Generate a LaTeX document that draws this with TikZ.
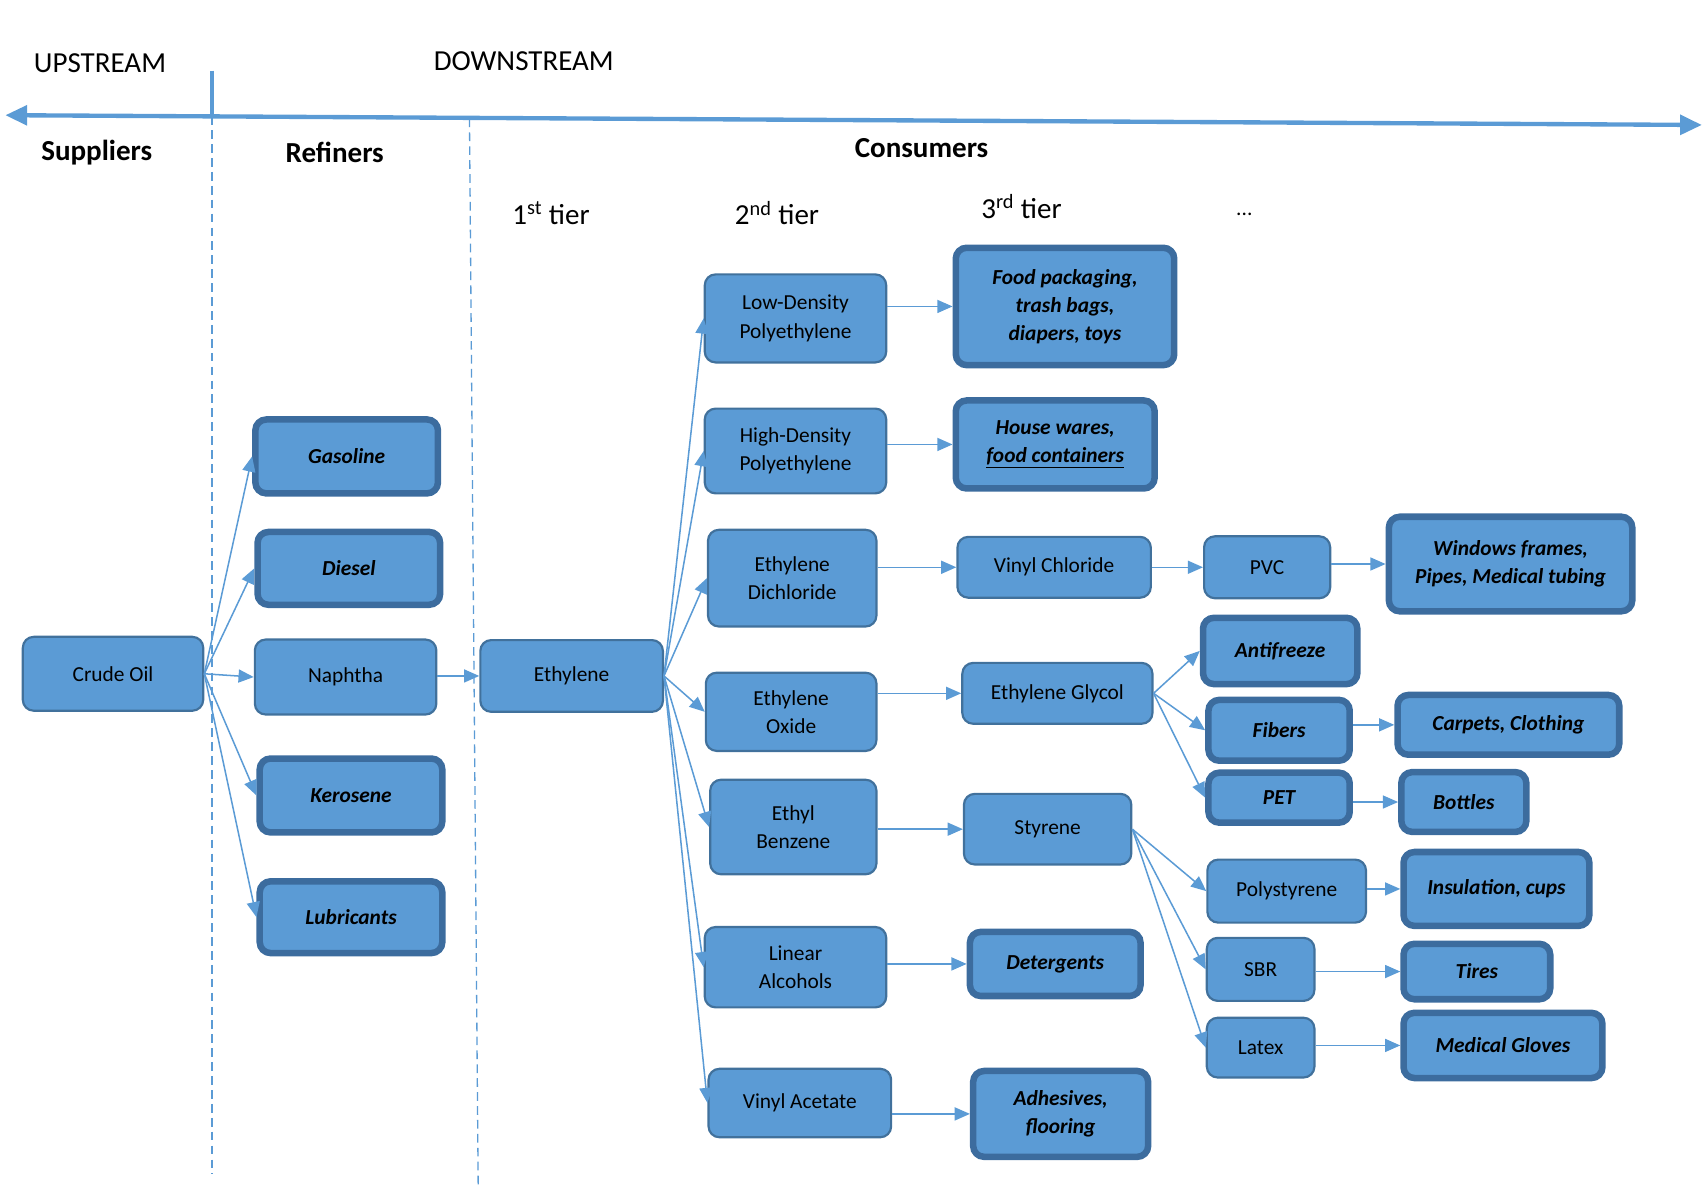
\documentclass[tikz,border=0pt]{standalone}
\usepackage{fontspec}
\setmainfont{Carlito}
\usetikzlibrary{shapes,positioning,arrows.meta}
\definecolor{boxfill}{HTML}{5B9BD5}
\definecolor{boxline}{HTML}{41719C}
\definecolor{prodline}{HTML}{3C6C9E}
\definecolor{arrowc}{HTML}{5B9BD5}
\newcommand{\bxfont}{\fontsize{14}{18.5}\selectfont}
\newcommand{\hdfont}{\fontsize{19}{23}\selectfont}
\tikzset{
    bsz/.style 2 args={minimum width=#1*0.25mm,minimum height=#2*0.25mm},
    box/.style={draw=boxline,fill=boxfill,line width=0.5mm,rounded corners=2.5mm,
        inner sep=0pt,align=center,font=\bxfont},
    prod/.style={box,draw=prodline,line width=1.5mm,font=\bxfont\bfseries\itshape},
    arr/.style={draw=arrowc,line width=0.35mm,-{Triangle[length=3.5mm,width=3mm]}},
    head/.style={inner sep=0pt,font=\hdfont}
}

\begin{document}
\begin{tikzpicture}[x=0.25mm,y=-0.25mm]
\useasboundingbox (0,0) rectangle (1568,1090);

% Stream axis
\coordinate (axl) at (5,106);
\coordinate (axr) at (1566,115);
\coordinate (ticktop) at (195,65);
\coordinate (tickbot) at (195,107);
\draw[draw=arrowc,line width=1mm,{Triangle[length=5mm,width=4.5mm]}-{Triangle[length=5mm,width=4.5mm]}]
    (axl) -- (axr);
\draw[draw=arrowc,line width=1mm] (ticktop) -- (tickbot);

% Column separators
\coordinate (sepa) at (195,1080);
\coordinate (sepbtop) at (432,109);
\coordinate (sepbbot) at (440,1090);
\draw[draw=arrowc,line width=0.3mm,dash pattern=on 2mm off 1.2mm] (tickbot) -- (sepa);
\draw[draw=arrowc,line width=0.3mm,dash pattern=on 2mm off 1.2mm] (sepbtop) -- (sepbbot);

% Headings
\node[head] (up) at (92,58) {UPSTREAM};
\node[head] (down) at (482,56) {DOWNSTREAM};
\node[head,font=\hdfont\bfseries] (supp) at (89,140) {Suppliers};
\node[head,font=\hdfont\bfseries] (refi) at (308,140) {Refiners};
\node[head,font=\hdfont\bfseries] (cons) at (848,136) {Consumers};
\node[head] (tier1) at (507,196) {1\textsuperscript{st} tier};
\node[head] (tier2) at (715,196) {2\textsuperscript{nd} tier};
\node[head] (tier3) at (940,190) {3\textsuperscript{rd} tier};
\node[head,font=\bxfont] (tiern) at (1145,197) {...};

% Suppliers and refiners
\node[box,bsz={166}{68}] (crude) at (104,620) {Crude Oil};
\node[prod,bsz={168}{68}] (gas) at (319,420) {Gasoline};
\node[prod,bsz={168}{67}] (diesel) at (321,523) {Diesel};
\node[box,bsz={167}{69}] (naph) at (318,623) {Naphtha};
\node[prod,bsz={168}{68}] (kero) at (323,732) {Kerosene};
\node[prod,bsz={168}{66}] (lubr) at (323,844) {Lubricants};

% 1st tier
\node[box,bsz={168}{66}] (ethy) at (526,622) {Ethylene};

% 2nd tier
\node[box,bsz={167}{81}] (ldpe) at (732,293) {Low-Density\\Polyethylene};
\node[box,bsz={167}{78}] (hdpe) at (732,415) {High-Density\\Polyethylene};
\node[box,bsz={155}{89}] (edc) at (729,532) {Ethylene\\Dichloride};
\node[box,bsz={157}{72}] (eox) at (728,655) {Ethylene\\Oxide};
\node[box,bsz={153}{87}] (ebz) at (730,761) {Ethyl\\Benzene};
\node[box,bsz={167}{74}] (lalc) at (732,890) {Linear\\Alcohols};
\node[box,bsz={168}{63}] (vac) at (736,1015) {Vinyl Acetate};

% 3rd tier
\node[prod,bsz={201}{108}] (food) at (980,282) {Food packaging,\\trash bags,\\diapers, toys};
\node[prod,bsz={183}{81}] (house) at (971,409) {House wares,\\\underline{food containers}};
\node[box,bsz={178}{56}] (vcl) at (970,522) {Vinyl Chloride};
\node[box,bsz={175}{56}] (egly) at (973,638) {Ethylene Glycol};
\node[box,bsz={154}{65}] (styr) at (964,763) {Styrene};
\node[prod,bsz={157}{59}] (deter) at (971,887) {Detergents};
\node[prod,bsz={161}{79}] (adhe) at (976,1025) {Adhesives,\\flooring};

% Further tiers
\node[box,bsz={116}{57}] (pvc) at (1166,522) {PVC};
\node[prod,bsz={142}{61}] (anti) at (1178,599) {Antifreeze};
\node[prod,bsz={130}{56}] (fibr) at (1177,672) {Fibers};
\node[prod,bsz={130}{46}] (pet) at (1177,734) {PET};
\node[box,bsz={146}{58}] (psty) at (1184,820) {Polystyrene};
\node[box,bsz={99}{58}] (sbr) at (1160,892) {SBR};
\node[box,bsz={99}{55}] (ltx) at (1160,964) {Latex};

\node[prod,bsz={224}{87}] (wind) at (1390,519) {Windows frames,\\Pipes, Medical tubing};
\node[prod,bsz={204}{55}] (carp) at (1388,667) {Carpets, Clothing};
\node[prod,bsz={115}{55}] (bott) at (1347,738) {Bottles};
\node[prod,bsz={171}{68}] (insu) at (1377,818) {Insulation, cups};
\node[prod,bsz={135}{51}] (tire) at (1359,894) {Tires};
\node[prod,bsz={183}{60}] (glov) at (1383,962) {Medical Gloves};

% Arrows
\foreach \t in {gas,diesel,naph,kero,lubr}
    \draw[arr] (crude.east) -- (\t.west);
\draw[arr] (naph.east |- ethy.west) -- (ethy.west);
\foreach \t in {ldpe,hdpe,edc,eox,ebz,lalc,vac}
    \draw[arr] (ethy.east) -- (\t.west);
\foreach \t in {anti,fibr,pet}
    \draw[arr] (egly.east) -- (\t.west);
\foreach \t in {psty,sbr,ltx}
    \draw[arr] (styr.east) -- (\t.west);
% straight links, level with the target
\foreach \a/\b in {ldpe/food,hdpe/house,edc/vcl,eox/egly,ebz/styr,lalc/deter,vac/adhe,
    vcl/pvc,pvc/wind,fibr/carp,pet/bott,psty/insu,sbr/tire,ltx/glov}
    \draw[arr] (\a.east |- \b.west) -- (\b.west);

\end{tikzpicture}
\end{document}
